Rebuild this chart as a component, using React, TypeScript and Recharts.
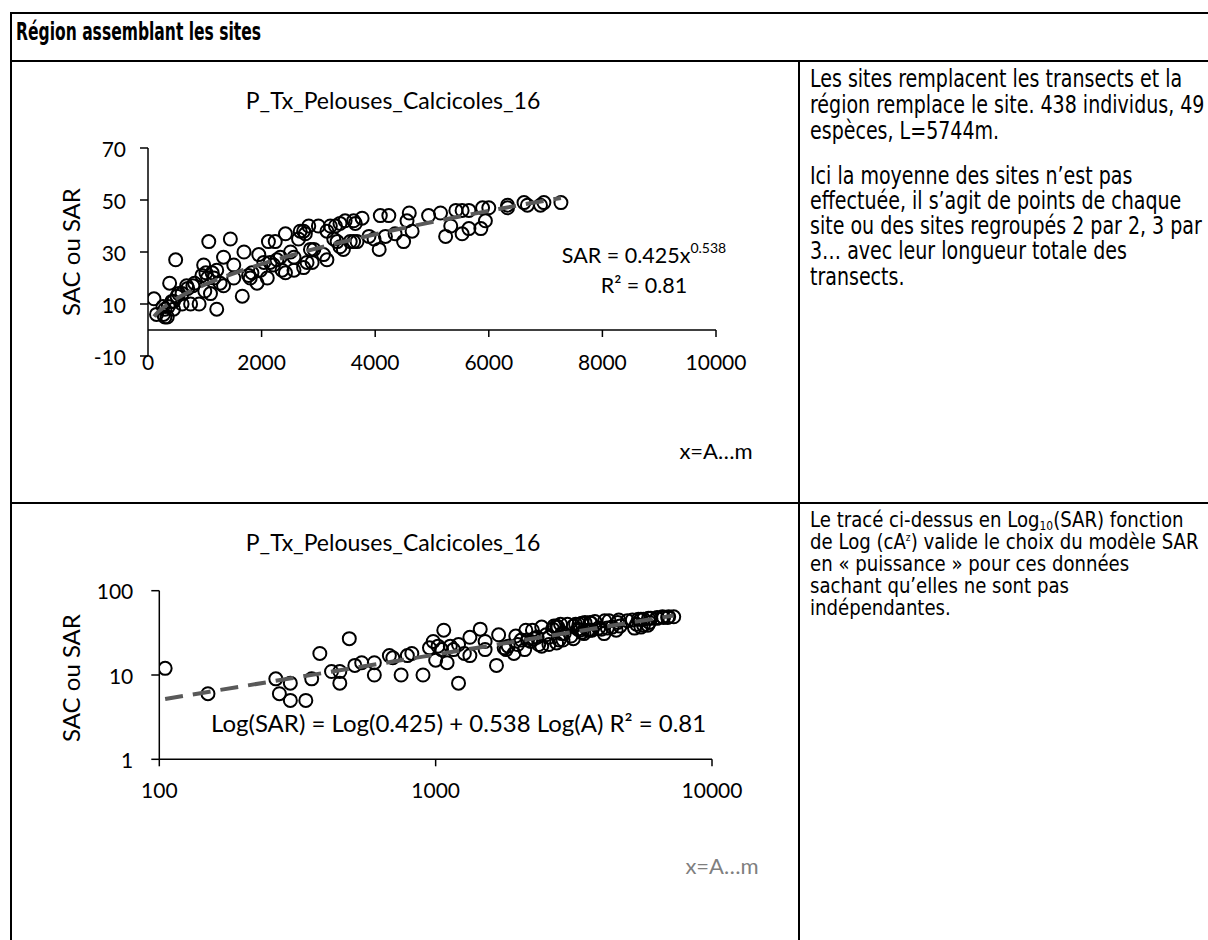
import React from 'react';
import { ScatterChart, Scatter, XAxis, YAxis, ReferenceLine } from 'recharts';

// ---- data (A = cumulated transect length in m, SAR = species count)
const areaM = [
  105, 150, 264, 272, 298, 298, 339, 356, 381, 420, 450, 450, 487, 510, 540, 600, 600, 680, 700, 750,
  790, 820, 900, 950, 980, 1000, 1020, 1050, 1070, 1100, 1130, 1160, 1210, 1210, 1270, 1330, 1330, 1450,
  1510, 1510, 1660, 1690, 1770, 1800, 1830, 1920, 1950, 1980, 2040, 2100, 2120, 2150, 2210, 2240, 2270,
  2330, 2360, 2420, 2420, 2510, 2570, 2570, 2650, 2680, 2740, 2740, 2770, 2800, 2830, 2860, 2890, 2920,
  3000, 3090, 3150, 3150, 3210, 3270, 3300, 3330, 3380, 3380, 3440, 3470, 3560, 3620, 3620, 3650, 3680,
  3770, 3890, 3980, 4070, 4090, 4180, 4240, 4350, 4500, 4560, 4600, 4650, 4940, 5150, 5240, 5330, 5420,
  5530, 5530, 5650, 5650, 5860, 5890, 5940, 6000, 6330, 6330, 6620, 6680, 6910, 6970, 7270,
];
const sarValues = [
  12, 6, 9, 6, 8, 5, 5, 9, 18, 11, 11, 8, 27, 13, 14, 14, 10, 17, 16, 10,
  17, 18, 10, 21, 25, 15, 22, 20, 34, 14, 22, 20, 8, 23, 18, 17, 28, 35,
  25, 20, 13, 30, 21, 20, 22, 18, 29, 23, 26, 20, 34, 26, 25, 34, 27,
  28, 23, 22, 37, 30, 28, 23, 35, 38, 38, 24, 37, 26, 40, 31, 26, 31,
  40, 29, 27, 38, 40, 35, 40, 34, 41, 32, 31, 42, 34, 34, 42, 41, 34,
  43, 36, 35, 31, 44, 36, 44, 37, 34, 42, 45, 38, 44, 45, 36, 40, 46,
  46, 37, 46, 39, 39, 47, 42, 47, 48, 47, 49, 48, 48, 49, 49,
];
const points = areaM.map((a, i) => ({ x: a, y: sarValues[i] }));

// power trendline printed on the chart: SAR = 0.425 x^0.538
const trendCoef = 0.425;
const trendExp = 0.538;
const trendSampleX = [105, 150, 200, 300, 400, 550, 700, 900, 1150, 1400, 1700, 2000, 2400, 2800, 3200, 3700, 4200, 4700, 5200, 5700, 6200, 6700, 7270];
const trend = trendSampleX.map((a) => ({ x: a, y: trendCoef * Math.pow(a, trendExp) }));

const linXTicks = [0, 2000, 4000, 6000, 8000, 10000];
const linYTicks = [-10, 10, 30, 50, 70];
const logXTicks = [100, 1000, 10000];
const logYTicks = [1, 10, 100];

const chartTitle = 'P_Tx_Pelouses_Calcicoles_16';
const yLabel = 'SAC ou SAR';
const xLabel = 'x=A…m';

const CF = 'Lato, "Open Sans", sans-serif';
const TF = '"DejaVu Sans Condensed", "Liberation Sans Narrow", sans-serif';

const Ring = (p: any) => <circle cx={p.cx} cy={p.cy} r={6.5} fill="none" stroke="#000" strokeWidth={2} />;
const Nothing = () => <g />;

const makeXTick = (dy: number) => (p: any) => (
  <text x={p.x} y={p.y + dy} textAnchor="middle" dominantBaseline="central" fontSize={21} fontFamily={CF} fill="#000">
    {p.payload.value}
  </text>
);
const makeYTick = () => (p: any) => (
  <text x={p.x} y={p.y} textAnchor="end" dominantBaseline="central" fontSize={21} fontFamily={CF} fill="#000">
    {p.payload.value}
  </text>
);

const abs = (left: number, top: number, extra: React.CSSProperties = {}): React.CSSProperties => ({
  position: 'absolute', left, top, ...extra,
});

const Centered = ({ x, y, children, style }: { x: number; y: number; children: React.ReactNode; style?: React.CSSProperties }) => (
  <div style={{ position: 'absolute', left: x, top: y, transform: 'translate(-50%,-50%)', whiteSpace: 'nowrap', fontFamily: CF, color: '#000', ...style }}>
    {children}
  </div>
);

const TextLine = ({ y, children, lh, fs, sx }: { y: number; children: React.ReactNode; lh: number; fs: number; sx: number }) => (
  <div style={{ position: 'absolute', left: 810, top: y - lh / 2, height: lh, lineHeight: `${lh}px`, fontFamily: TF, fontSize: fs, color: '#000', whiteSpace: 'nowrap', transform: `scaleX(${sx})`, transformOrigin: 'left center' }}>
    {children}
  </div>
);

const upperLines = [
  'Les sites remplacent les transects et la',
  'région remplace le site. 438 individus, 49',
  'espèces, L=5744m.',
  'Ici la moyenne des sites n’est pas',
  'effectuée, il s’agit de points de chaque',
  'site ou des sites regroupés 2 par 2, 3 par',
  '3… avec leur longueur totale des',
  'transects.',
];
const upperLineY = [78, 104, 130, 175, 200, 225, 250, 276];
const lowerLineY = [520, 542, 564, 586, 608];

const border = '#000';

export default function App() {
  const trendLine = { stroke: '#595959', strokeWidth: 4, strokeDasharray: '18 10' };
  const up = { lh: 25, fs: 25, sx: 0.846 };
  const lo = { lh: 22, fs: 22, sx: 0.915 };
  return (
    <div style={{ position: 'absolute', left: 0, top: 0, width: 1208, height: 940, overflow: 'hidden', background: '#fff' }}>
      {/* upper chart: linear axes */}
      <div style={abs(0, 60)}>
        <ScatterChart width={790} height={440} margin={{ top: 88, right: 74, bottom: 114, left: 88 }}>
          <XAxis type="number" dataKey="x" domain={[0, 10000]} ticks={linXTicks} interval={0} allowDataOverflow
            axisLine={false} tickLine={false} tickSize={0} tickMargin={0} height={30} tick={makeXTick(5)} />
          <YAxis type="number" dataKey="y" domain={[-10, 70]} ticks={linYTicks} interval={0} allowDataOverflow width={60}
            axisLine={{ stroke: '#000', strokeWidth: 1.5 }} tickLine={{ stroke: '#000', strokeWidth: 1.5 }} tickSize={8} tickMargin={14} tick={makeYTick()} />
          <ReferenceLine y={0} stroke="#000" strokeWidth={1.5} />
          {linXTicks.slice(1).map((t) => (
            <ReferenceLine key={t} segment={[{ x: t, y: 0 }, { x: t, y: -2.7 }]} stroke="#000" strokeWidth={1.5} />
          ))}
          <Scatter data={points} shape={Ring} isAnimationActive={false} />
          <Scatter data={trend} shape={Nothing} line={trendLine} lineType="joint" isAnimationActive={false} />
        </ScatterChart>
      </div>
      <Centered x={393} y={100} style={{ fontSize: 23 }}>{chartTitle}</Centered>
      <Centered x={70} y={252} style={{ fontSize: 24, transform: 'translate(-50%,-50%) rotate(-90deg)' }}>{yLabel}</Centered>
      <Centered x={644} y={255} style={{ fontSize: 21.5 }}>
        SAR = 0.425x<sup style={{ fontSize: 14, verticalAlign: 'top', position: 'relative', top: -3 }}>0.538</sup>
      </Centered>
      <Centered x={644} y={285} style={{ fontSize: 21.5 }}>R² = 0.81</Centered>
      <Centered x={716} y={450} style={{ fontSize: 22 }}>{xLabel}</Centered>

      {/* lower chart: log-log axes */}
      <div style={abs(0, 503)}>
        <ScatterChart width={790} height={437} margin={{ top: 87.7, right: 78, bottom: 140.7, left: 99.3 }}>
          <XAxis type="number" dataKey="x" scale="log" domain={[100, 10000]} ticks={logXTicks} interval={0} allowDataOverflow
            axisLine={{ stroke: '#000', strokeWidth: 1.5 }} tickLine={{ stroke: '#000', strokeWidth: 1.5 }} tickSize={7} tickMargin={16} height={40} tick={makeXTick(7)} />
          <YAxis type="number" dataKey="y" scale="log" domain={[1, 100]} ticks={logYTicks} interval={0} allowDataOverflow width={60}
            axisLine={{ stroke: '#000', strokeWidth: 1.5 }} tickLine={{ stroke: '#000', strokeWidth: 1.5 }} tickSize={8} tickMargin={18} tick={makeYTick()} />
          <Scatter data={points} shape={Ring} isAnimationActive={false} />
          <Scatter data={trend} shape={Nothing} line={trendLine} lineType="joint" isAnimationActive={false} />
        </ScatterChart>
      </div>
      <Centered x={393} y={542} style={{ fontSize: 23 }}>{chartTitle}</Centered>
      <Centered x={70} y={678} style={{ fontSize: 24, transform: 'translate(-50%,-50%) rotate(-90deg)' }}>{yLabel}</Centered>
      <div style={{ position: 'absolute', left: 211, top: 722, transform: 'translateY(-50%)', whiteSpace: 'nowrap', fontFamily: CF, fontSize: 24 }}>
        Log(SAR) = Log(0.425) + 0.538 Log(A) R² = 0.81
      </div>
      <Centered x={722} y={865} style={{ fontSize: 22, color: '#7f7f7f' }}>{xLabel}</Centered>

      {/* table text */}
      <div style={{ position: 'absolute', left: 16, top: 17, lineHeight: '30px', fontFamily: TF, fontWeight: 'bold', fontSize: 24, whiteSpace: 'nowrap', transform: 'scaleX(0.72)', transformOrigin: 'left center' }}>
        Région assemblant les sites
      </div>
      {upperLines.map((l, i) => (
        <TextLine key={i} y={upperLineY[i]} {...up}>{l}</TextLine>
      ))}
      <TextLine y={lowerLineY[0]} {...lo}>Le tracé ci-dessus en Log<sub style={{ fontSize: 13, lineHeight: '13px', verticalAlign: 'baseline', position: 'relative', top: 3 }}>10</sub>(SAR) fonction</TextLine>
      <TextLine y={lowerLineY[1]} {...lo}>de Log (cA<sup style={{ fontSize: 11, lineHeight: '11px', verticalAlign: 'baseline', position: 'relative', top: -8 }}>z</sup>) valide le choix du modèle SAR</TextLine>
      <TextLine y={lowerLineY[2]} {...lo}>en « puissance » pour ces données</TextLine>
      <TextLine y={lowerLineY[3]} {...lo}>sachant qu’elles ne sont pas</TextLine>
      <TextLine y={lowerLineY[4]} {...lo}>indépendantes.</TextLine>

      {/* table borders */}
      <div style={abs(10, 12, { width: 1198, height: 2, background: border })} />
      <div style={abs(10, 12, { width: 2, height: 928, background: border })} />
      <div style={abs(10, 60, { width: 1198, height: 2, background: border })} />
      <div style={abs(798, 60, { width: 2, height: 880, background: border })} />
      <div style={abs(10, 502, { width: 1198, height: 2, background: border })} />
    </div>
  );
}
